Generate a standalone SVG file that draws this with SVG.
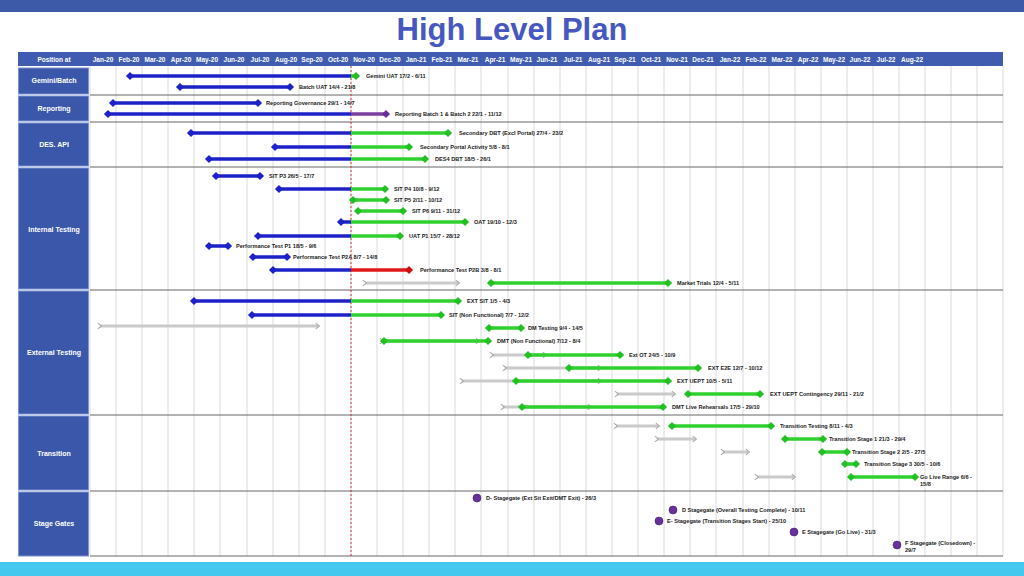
<svg xmlns="http://www.w3.org/2000/svg" width="1024" height="576" viewBox="0 0 1024 576">
<style>
.m{font:bold 6.5px "Liberation Sans",Arial,sans-serif;fill:#fff;text-anchor:middle}
.s{font:bold 7px "Liberation Sans",Arial,sans-serif;fill:#fff;text-anchor:middle}
.l{font:bold 5.6px "Liberation Sans",Arial,sans-serif;fill:#222}
.b{stroke:#1c22c8;stroke-width:3.5;marker-start:url(#db)}
.g{stroke:#2ed12e;stroke-width:3.5;marker-end:url(#dg)}
.bo{stroke:#1c22c8;stroke-width:3.5;marker-start:url(#db);marker-end:url(#db)}
.go{stroke:#2ed12e;stroke-width:3.5;marker-start:url(#dg);marker-end:url(#dg)}
.r{stroke:#e01818;stroke-width:3.5;marker-end:url(#dr)}
.p{stroke:#7a3fa0;stroke-width:3.5;marker-end:url(#dp)}
.gr{stroke:#cacaca;stroke-width:3;marker-start:url(#ag);marker-end:url(#ag)}
.grid{stroke:#d0d0d0;stroke-width:0.8}
.sep{stroke:#666;stroke-width:1}
.lab{fill:#3b57aa;stroke:#7d92d0;stroke-width:1}
.sg{fill:#6a2f9a;stroke:#40207a;stroke-width:0.6}
</style>
<defs>
<marker id="db" viewBox="-5 -5 10 10" markerWidth="2.6" markerHeight="2.6" orient="auto"><path d="M-4.5 0L0-4.5 4.5 0 0 4.5z" fill="#1c22c8"/></marker>
<marker id="dg" viewBox="-5 -5 10 10" markerWidth="2.6" markerHeight="2.6" orient="auto"><path d="M-4.5 0L0-4.5 4.5 0 0 4.5z" fill="#22c022"/></marker>
<marker id="dr" viewBox="-5 -5 10 10" markerWidth="2.6" markerHeight="2.6" orient="auto"><path d="M-4.5 0L0-4.5 4.5 0 0 4.5z" fill="#d01010"/></marker>
<marker id="dp" viewBox="-5 -5 10 10" markerWidth="2.6" markerHeight="2.6" orient="auto"><path d="M-4.5 0L0-4.5 4.5 0 0 4.5z" fill="#6a2f9a"/></marker>
<marker id="ag" viewBox="-5 -5 10 10" markerWidth="2.4" markerHeight="2.4" orient="auto"><path d="M-3 -4L2 0-3 4" fill="none" stroke="#aaa" stroke-width="1.5"/></marker>
</defs>
<rect width="1024" height="576" fill="#fff"/>
<rect width="1024" height="12" fill="#3d5aa8"/>
<rect y="562" width="1024" height="14" fill="#45c8ee"/>
<text x="512" y="40" style="font:bold 31px 'Liberation Sans',Arial,sans-serif;fill:#4658c0;text-anchor:middle">High Level Plan</text>
<g id="header">
<rect x="18" y="52" width="985" height="14" fill="#3f5cb0"/>
<text class="m" x="54" y="61.5">Position at</text>
<g class="m">
<text x="103" y="61.5">Jan-20</text><text x="129" y="61.5">Feb-20</text><text x="155" y="61.5">Mar-20</text><text x="181" y="61.5">Apr-20</text><text x="207" y="61.5">May-20</text><text x="234" y="61.5">Jun-20</text><text x="260" y="61.5">Jul-20</text><text x="286" y="61.5">Aug-20</text><text x="312" y="61.5">Sep-20</text><text x="338" y="61.5">Oct-20</text><text x="364" y="61.5">Nov-20</text><text x="390" y="61.5">Dec-20</text><text x="416" y="61.5">Jan-21</text><text x="442" y="61.5">Feb-21</text><text x="468" y="61.5">Mar-21</text><text x="495" y="61.5">Apr-21</text><text x="521" y="61.5">May-21</text><text x="547" y="61.5">Jun-21</text><text x="573" y="61.5">Jul-21</text><text x="599" y="61.5">Aug-21</text><text x="625" y="61.5">Sep-21</text><text x="651" y="61.5">Oct-21</text><text x="677" y="61.5">Nov-21</text><text x="703" y="61.5">Dec-21</text><text x="730" y="61.5">Jan-22</text><text x="756" y="61.5">Feb-22</text><text x="782" y="61.5">Mar-22</text><text x="808" y="61.5">Apr-22</text><text x="834" y="61.5">May-22</text><text x="860" y="61.5">Jun-22</text><text x="886" y="61.5">Jul-22</text><text x="912" y="61.5">Aug-22</text>
</g>
</g>
<g id="grid" class="grid">
<path d="M90 66V556M116 66V556M142 66V556M168 66V556M194 66V556M220 66V556M247 66V556M273 66V556M299 66V556M325 66V556M351 66V556M377 66V556M403 66V556M429 66V556M455 66V556M481 66V556M508 66V556M534 66V556M560 66V556M586 66V556M612 66V556M638 66V556M664 66V556M690 66V556M716 66V556M743 66V556M769 66V556M795 66V556M821 66V556M847 66V556M873 66V556M899 66V556M925 66V556M951 66V556M977 66V556M1003 66V556"/>
<path class="sep" d="M90 95H1003M90 122H1003M90 167H1003M90 290H1003M90 415H1003M90 491H1003M90 556H1003"/>
</g>
<g id="rows">
<rect class="lab" x="18.5" y="68" width="70" height="26"/><text class="s" x="54" y="83">Gemini/Batch</text>
<rect class="lab" x="18.5" y="96" width="70" height="25"/><text class="s" x="54" y="111">Reporting</text>
<rect class="lab" x="18.5" y="123" width="70" height="43"/><text class="s" x="54" y="147">DES. API</text>
<rect class="lab" x="18.5" y="168" width="70" height="121"/><text class="s" x="54" y="232">Internal Testing</text>
<rect class="lab" x="18.5" y="291" width="70" height="123"/><text class="s" x="54" y="355">External Testing</text>
<rect class="lab" x="18.5" y="416" width="70" height="74"/><text class="s" x="54" y="456">Transition</text>
<rect class="lab" x="18.5" y="492" width="70" height="64"/><text class="s" x="54" y="526">Stage Gates</text>
</g>
<line x1="351" y1="66" x2="351" y2="556" stroke="#e03030" stroke-width="1" stroke-dasharray="2,2"/>
<g id="connectors">
<path class="gr" d="M365 283H458"/><path class="gr" d="M100 326H318"/><path class="gr" d="M382 341H478"/><path class="gr" d="M492 355H545"/><path class="gr" d="M505 368H600"/><path class="gr" d="M462 381H600"/><path class="gr" d="M617 394H674"/><path class="gr" d="M503 407H590"/><path class="gr" d="M616 426H658"/><path class="gr" d="M657 439H695"/><path class="gr" d="M723 452H748"/><path class="gr" d="M757 477H794"/>
<path class="b" d="M130 76H351"/><path class="g" d="M351 76H356"/>
<path class="bo" d="M180 87H290"/>
<path class="bo" d="M113 103H258"/>
<path class="b" d="M108 114H351"/><path class="p" d="M351 114H386"/>
<path class="b" d="M191 133H351"/><path class="g" d="M351 133H448"/>
<path class="b" d="M275 147H351"/><path class="g" d="M351 147H409"/>
<path class="b" d="M209 159H351"/><path class="g" d="M351 159H425"/>
<path class="bo" d="M216 176H260"/>
<path class="b" d="M279 189H351"/><path class="g" d="M351 189H385"/>
<path class="go" d="M353 200H386"/>
<path class="go" d="M358 211H403"/>
<path class="b" d="M341 222H351"/><path class="g" d="M351 222H465"/>
<path class="b" d="M258 236H351"/><path class="g" d="M351 236H400"/>
<path class="bo" d="M209 246H228"/>
<path class="bo" d="M253 257H287"/>
<path class="b" d="M273 270H351"/><path class="r" d="M351 270H409"/>
<path class="go" d="M491 283H668"/>
<path class="b" d="M194 301H351"/><path class="g" d="M351 301H458"/>
<path class="b" d="M252 315H351"/><path class="g" d="M351 315H441"/>
<path class="go" d="M489 328H521"/>
<path class="go" d="M384 341H488"/>
<path class="go" d="M528 355H620"/>
<path class="go" d="M569 368H698"/>
<path class="go" d="M516 381H668"/>
<path class="go" d="M688 394H760"/>
<path class="go" d="M522 407H663"/>
<path class="go" d="M672 426H771"/>
<path class="go" d="M785 439H823"/>
<path class="go" d="M822 452H847"/>
<path class="go" d="M845 464H856"/>
<path class="go" d="M851 477H915"/>
</g>
<g id="stagegates" class="sg">
<circle cx="477" cy="498" r="4"/><circle cx="673" cy="510" r="4"/><circle cx="659" cy="521" r="4"/><circle cx="794" cy="532" r="4"/><circle cx="897" cy="545" r="4"/>
</g>
<g id="labels" class="l" xml:space="preserve"><text x="366" y="78">Gemini UAT   17/2 - 6/11</text><text x="299" y="89">Batch UAT   14/4 - 21/8</text><text x="266" y="105">Reporting Governance   29/1 - 14/7</text><text x="395" y="116">Reporting Batch 1 &amp; Batch 2   22/1 - 11/12</text><text x="459" y="135">Secondary DBT (Excl Portal)   27/4 - 23/2</text><text x="420" y="149">Secondary Portal Activity   5/8 - 8/1</text><text x="435" y="161">DES4 DBT   18/5 - 26/1</text><text x="269" y="178">SIT P3   26/5 - 17/7</text><text x="394" y="191">SIT P4   10/8 - 9/12</text><text x="394" y="202">SIT P5   2/11 - 10/12</text><text x="412" y="213">SIT P6   9/11 - 31/12</text><text x="474" y="224">OAT   19/10 - 12/3</text><text x="409" y="238">UAT P1   15/7 - 28/12</text><text x="236" y="248">Performance  Test P1   18/5 - 9/6</text><text x="293" y="259">Performance  Test P2A   8/7 - 14/8</text><text x="420" y="272">Performance  Test P2B   3/8 - 8/1</text><text x="677" y="285">Market Trials   12/4 - 5/11</text><text x="467" y="303">EXT SIT   1/5 - 4/3</text><text x="449" y="317">SIT (Non Functional)   7/7 - 12/2</text><text x="528" y="330">DM Testing   9/4 - 14/5</text><text x="497" y="343">DMT (Non Functional)   7/12 - 8/4</text><text x="629" y="357">Ext OT   24/5 - 10/9</text><text x="708" y="370">EXT E2E   12/7 - 10/12</text><text x="677" y="383">EXT UEPT   10/5 - 5/11</text><text x="770" y="396">EXT UEPT Contingency   29/11 - 21/2</text><text x="672" y="409">DMT Live Rehearsals   17/5 - 29/10</text><text x="780" y="428">Transition Testing   8/11 - 4/3</text><text x="829" y="441">Transition Stage 1   21/3 - 29/4</text><text x="852" y="454">Transition Stage 2   2/5 - 27/5</text><text x="864" y="466">Transition Stage 3   30/5 - 10/6</text><text x="920" y="479">Go Live Range   6/6 -</text><text x="920" y="486">15/8</text><text x="486" y="500">D- Stagegate (Ext Sit Exit/DMT Exit)  - 26/3</text><text x="682" y="512">D Stagegate (Overall Testing Complete)  - 10/11</text><text x="667" y="523">E- Stagegate (Transition Stages Start)  - 25/10</text><text x="802" y="534">E Stagegate (Go Live)  - 31/3</text><text x="905" y="545">F Stagegate (Closedown)  -</text><text x="905" y="552">29/7</text></g>
</svg>
